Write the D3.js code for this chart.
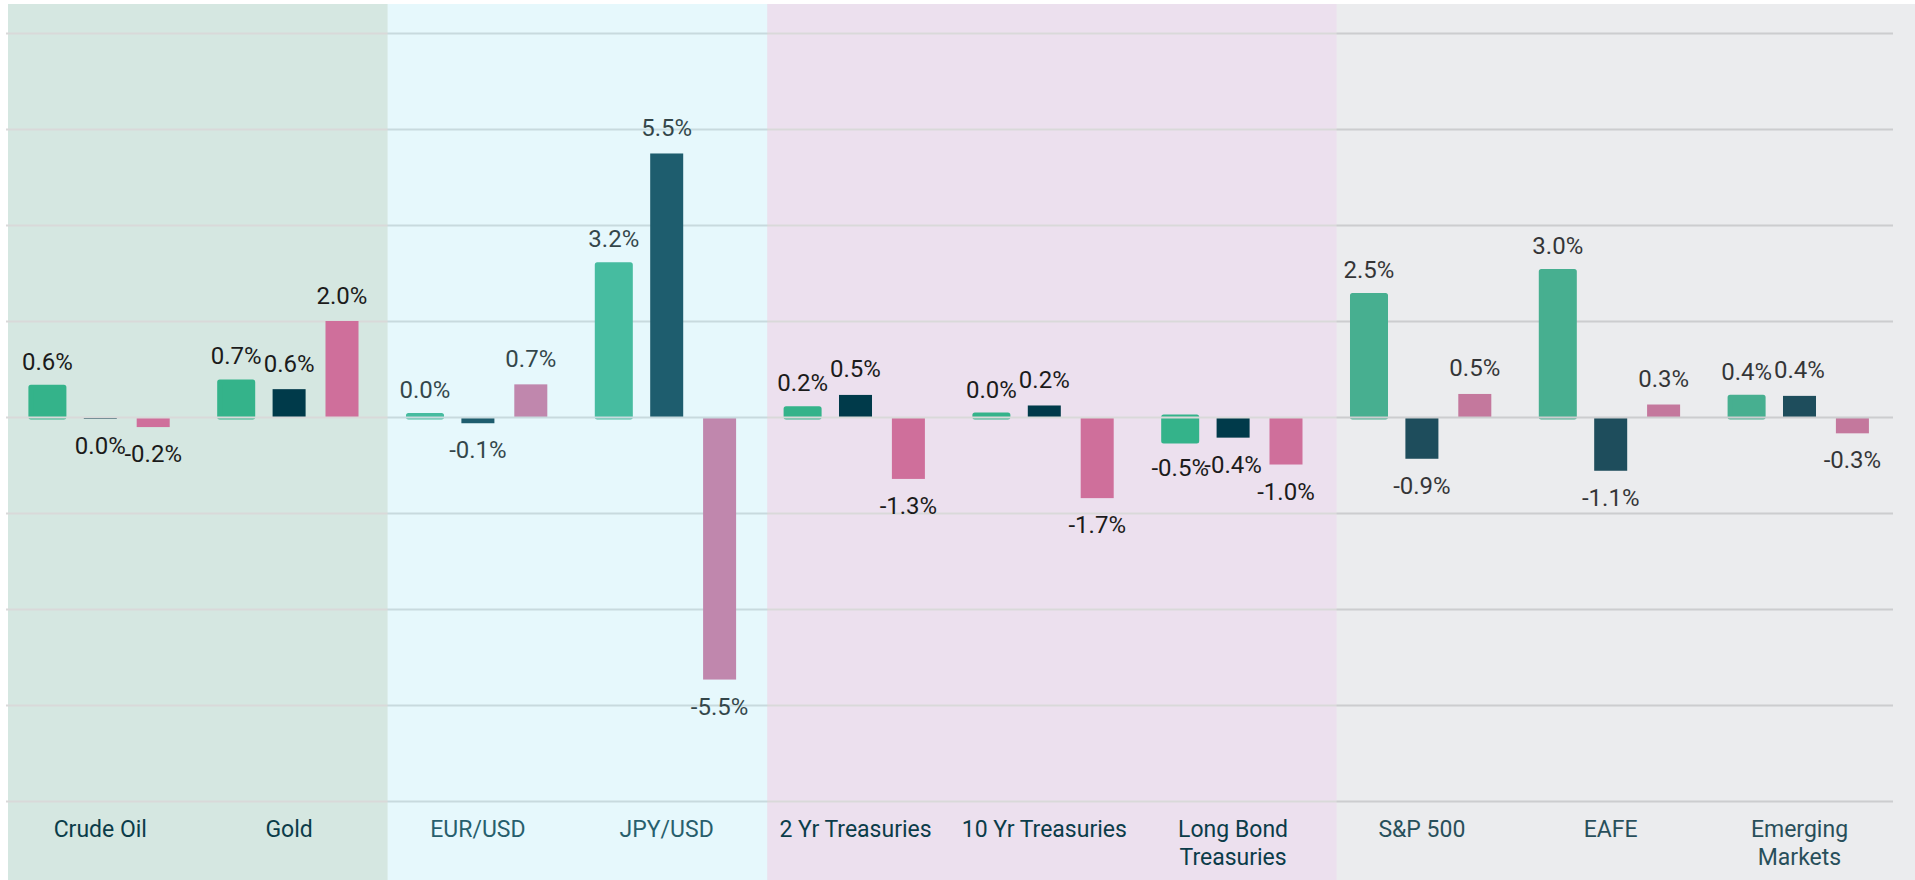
<!DOCTYPE html>
<html>
<head>
<meta charset="utf-8">
<script src="https://cdn.jsdelivr.net/npm/d3@7"></script>
<style>
  html, body { margin: 0; padding: 0; background: #ffffff; }
  svg { display: block; }
</style>
</head>
<body>
<div id="chart"></div>
<script>
// ---- Data ----
const categories = ["Crude Oil", "Gold", "EUR/USD", "JPY/USD", "2 Yr Treasuries",
  "10 Yr Treasuries", "Long Bond Treasuries", "S&P 500", "EAFE", "Emerging Markets"];
const categoryLines = [["Crude Oil"], ["Gold"], ["EUR/USD"], ["JPY/USD"], ["2 Yr Treasuries"],
  ["10 Yr Treasuries"], ["Long Bond", "Treasuries"], ["S&P 500"], ["EAFE"], ["Emerging", "Markets"]];
const seriesNames = ["Series A", "Series B", "Series C"];
const seriesA = [0.62, 0.73, 0.03, 3.17, 0.17, 0.04, -0.50, 2.53, 3.03, 0.41];
const seriesB = [-0.04, 0.58, -0.13, 5.49, 0.46, 0.24, -0.43, -0.87, -1.12, 0.44];
const seriesC = [-0.21, 2.00, 0.68, -5.47, -1.29, -1.69, -0.99, 0.48, 0.26, -0.34];
const yTicks = [-8, -6, -4, -2, 0, 2, 4, 6, 8];
const panelGroups = ["Commodities", "Currencies", "Fixed Income", "Equities"];
const panelSizes = [2, 2, 3, 3];

// ---- Styles ----
const W = 1915, H = 880;
const seriesColors = ["#34b38a", "#003a4a", "#cf6f9b"];
const panelFill = ["#d5e7e1", "rgba(139,222,241,0.216)", "#ece0ee", "rgba(153,158,168,0.196)"];
const panelOnTop = [false, true, false, true];
const gridColor = "#d9d9d9";
const labelFont = "Roboto, 'Open Sans', sans-serif";

const svg = d3.select("#chart").append("svg").attr("width", W).attr("height", H);

const x0 = d3.scaleBand().domain(categories).range([5.9, 1893.9]).padding(0);
const x1 = d3.scaleBand().domain(seriesNames).range([0, x0.bandwidth()])
  .paddingInner(0.376).paddingOuter(0.4725);
const y = d3.scaleLinear().domain([-8, 8]).range([801, 33]);

// panel geometry from category counts
const cum = [0];
panelSizes.forEach(s => cum.push(cum[cum.length - 1] + s));
const px = d3.scaleLinear().domain([0, categories.length]).range([8, 1906]);
const panels = panelGroups.map((g, i) => ({
  name: g, x0: px(cum[i]), x1: i === panelGroups.length - 1 ? W : px(cum[i + 1]),
  fill: panelFill[i], top: panelOnTop[i]
}));

function drawPanels(onTop) {
  svg.append("g").selectAll("rect").data(panels.filter(p => p.top === onTop)).join("rect")
    .attr("x", d => d.x0).attr("y", 4)
    .attr("width", d => d.x1 - d.x0).attr("height", H - 4)
    .attr("fill", d => d.fill);
}

drawPanels(false);

// gridlines via axis
const grid = svg.append("g").attr("transform", `translate(${6},0)`)
  .call(d3.axisLeft(y).tickValues(yTicks.filter(t => t !== 0)).tickSize(-(1893 - 6)).tickFormat(""));
grid.select(".domain").remove();
grid.selectAll(".tick line").attr("stroke", gridColor).attr("stroke-width", 2);

// bars
const seriesData = [seriesA, seriesB, seriesC];
const rows = [];
categories.forEach((c, i) => {
  seriesNames.forEach((s, j) => rows.push({ cat: c, ser: s, si: j, v: seriesData[j][i] }));
});

const barG = svg.append("g");
barG.selectAll("rect").data(rows).join("rect")
  .attr("x", d => x0(d.cat) + x1(d.ser))
  .attr("width", x1.bandwidth())
  .attr("y", d => y(Math.max(0, d.v)))
  .attr("height", d => Math.max(0.8, Math.abs(y(d.v) - y(0))))
  .attr("fill", d => seriesColors[d.si])
  .attr("stroke", d => d.si === 0 ? seriesColors[0] : "none")
  .attr("stroke-width", d => d.si === 0 ? 5 : 0)
  .attr("stroke-linejoin", "round");

// zero line on top of bars
const zero = svg.append("g").attr("transform", `translate(${6},0)`)
  .call(d3.axisLeft(y).tickValues([0]).tickSize(-(1893 - 6)).tickFormat(""));
zero.select(".domain").remove();
zero.selectAll(".tick line").attr("stroke", gridColor).attr("stroke-width", 2);

// data labels
function fmt(v) {
  let s = v.toFixed(1);
  if (s === "-0.0") s = "0.0";
  return s + "%";
}
svg.append("g").selectAll("text").data(rows).join("text")
  .attr("x", d => x0(d.cat) + x1(d.ser) + x1.bandwidth() / 2)
  .attr("y", d => d.v >= 0 ? y(d.v) - 17.5 : y(d.v) + 35)
  .attr("text-anchor", "middle")
  .attr("font-family", labelFont)
  .attr("font-size", 24)
  .attr("fill", "#1b1b1b")
  .text(d => fmt(d.v));

// category labels
const catG = svg.append("g").selectAll("text").data(categories).join("text")
  .attr("text-anchor", "middle")
  .attr("font-family", labelFont)
  .attr("font-size", 23)
  .attr("fill", "#0b3c49");
catG.each(function (c, i) {
  const t = d3.select(this);
  categoryLines[i].forEach((line, k) => {
    t.append("tspan").attr("x", x0(c) + x0.bandwidth() / 2).attr("y", 837 + k * 28).text(line);
  });
});

drawPanels(true);
</script>
</body>
</html>
